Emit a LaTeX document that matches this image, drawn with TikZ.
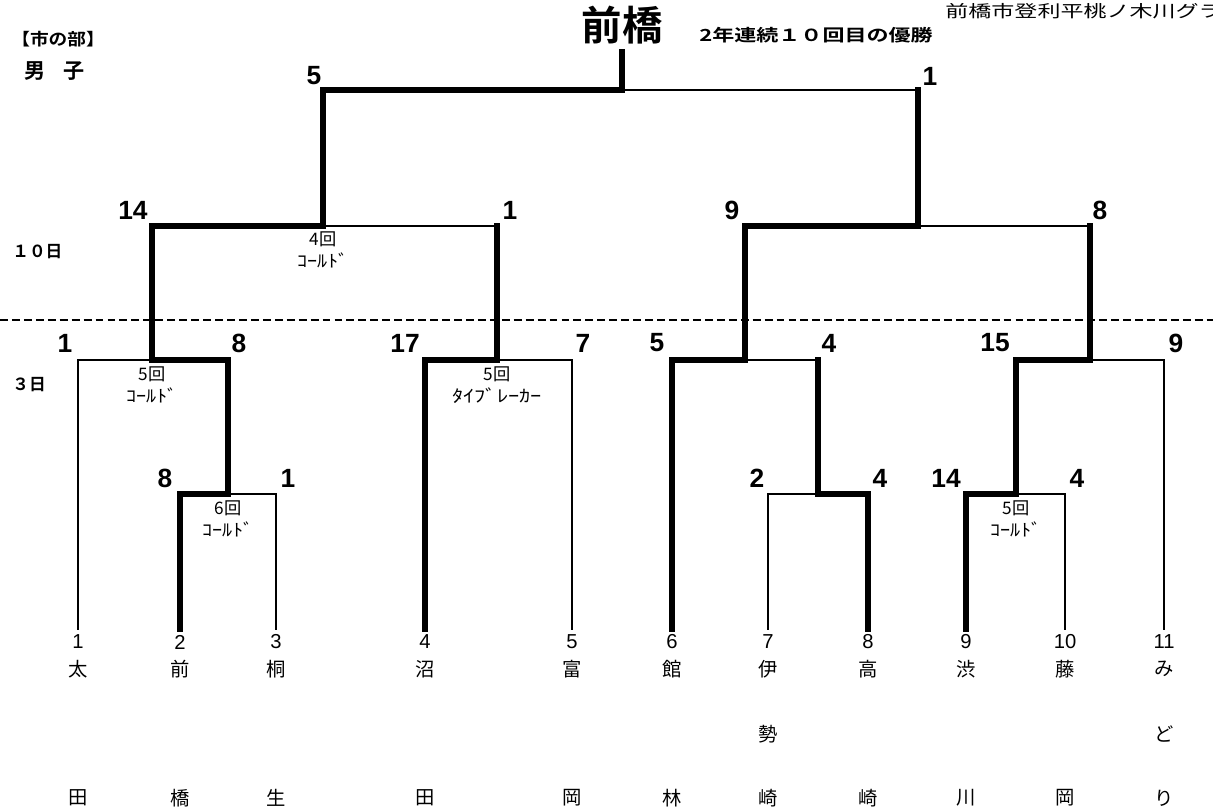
\documentclass[tikz,border=0pt]{standalone}
\usepackage{fontspec}
\setmainfont{Liberation Sans}
\newfontfamily\jp{Noto Sans CJK JP}
\newfontfamily\jpb{Noto Sans CJK JP Bold}
\tikzset{
  thinline/.style={line width=1pt, line cap=rect},
  thickline/.style={line width=3pt, line join=miter, line cap=rect},
  scorenum/.style={font=\fontsize{15}{15}\selectfont\bfseries, inner sep=0pt},
  notetext/.style={font=\jp\fontsize{9.8}{12.5}\selectfont, inner sep=0pt, align=center},
  seednum/.style={font=\fontsize{11.5}{12}\selectfont, inner sep=0pt},
  teamchar/.style={font=\jp\fontsize{11}{12}\selectfont, inner sep=0pt},
  hdrtext/.style={font=\jpb\fontsize{9.5}{11}\selectfont, inner sep=0pt},
}
\begin{document}
\begin{tikzpicture}[x=0.02cm,y=-0.02cm]
\useasboundingbox (0,0) rectangle (1213,808);
\clip (0,0) rectangle (1213,808);
% header
\node[font=\jpb\fontsize{23}{25}\selectfont, inner sep=0pt] (champ) at (622,25) {前橋};
\node[hdrtext, anchor=west] (streak) at (699,35) {\scalebox{1.32}[1]{2年連続１０回目の優勝}};
\node[font=\jp\fontsize{9.5}{11}\selectfont, inner sep=0pt, anchor=west] (venue) at (945,11) {\scalebox{1.38}[1]{前橋市登利平桃ノ木川グランド}};
\node[hdrtext, anchor=west] (div) at (11,39) {\scalebox{1.12}[1]{【市の部】}};
\node[hdrtext, anchor=west, font=\jpb\fontsize{12}{13}\selectfont] (sex) at (24,71) {男\hspace{0.85em}子};
\node[hdrtext, anchor=west] (day10) at (12,252) {１０日};
\node[hdrtext, anchor=west] (day3) at (12,385) {３日};
% dashed separator
\coordinate (dl) at (0,320);
\coordinate (dr) at (1213,320);
\draw[dash pattern=on 4.5pt off 2.3pt, line width=1.3pt] (dl) -- (dr);

% team bottoms
\foreach \i/\x in {1/78,2/180,3/276,4/425,5/572,6/672,7/768,8/868,9/966,10/1065,11/1164}{
  \coordinate (b\i) at (\x,629);
}
% junctions
\coordinate (a2) at (180,494); \coordinate (a3) at (276,494); \coordinate (am) at (228,494);
\coordinate (b7t) at (768,494); \coordinate (b8t) at (868,494); \coordinate (bm) at (818,494);
\coordinate (c9) at (966,494); \coordinate (c10) at (1065,494); \coordinate (cm) at (1016,494);
\coordinate (d1) at (78,360); \coordinate (dA) at (228,360); \coordinate (dm) at (152,360);
\coordinate (e4) at (425,360); \coordinate (e5) at (572,360); \coordinate (em) at (497,360);
\coordinate (f6) at (672,360); \coordinate (fB) at (818,360); \coordinate (fm) at (745,360);
\coordinate (gC) at (1016,360); \coordinate (g11) at (1164,360); \coordinate (gm) at (1090,360);
\coordinate (hD) at (152,226); \coordinate (hE) at (497,226); \coordinate (hm) at (323,226);
\coordinate (iF) at (745,226); \coordinate (iG) at (1090,226); \coordinate (im) at (918,226);
\coordinate (jH) at (323,90); \coordinate (jI) at (918,90); \coordinate (jm) at (622,90);
\coordinate (top) at (622,52);

% thin (losing) lines
\draw[thinline] (b3) -- (a3) -- (am);
\draw[thinline] (b1) -- (d1) -- (dm);
\draw[thinline] (b5) -- (e5) -- (em);
\draw[thinline] (b7) -- (b7t) -- (bm);
\draw[thinline] (fm) -- (fB);
\draw[thinline] (b10) -- (c10) -- (cm);
\draw[thinline] (b11) -- (g11) -- (gm);
\draw[thinline] (hm) -- (hE);
\draw[thinline] (im) -- (iG);
\draw[thinline] (jm) -- (jI);

% thick (winning) lines
\draw[thickline] (b2) -- (a2) -- (am) -- (dA) -- (dm) -- (hD) -- (hm) -- (jH) -- (jm) -- (top);
\draw[thickline] (b4) -- (e4) -- (em) -- (hE);
\draw[thickline] (b6) -- (f6) -- (fm) -- (iF) -- (im) -- (jI);
\draw[thickline] (b8) -- (b8t) -- (bm) -- (fB);
\draw[thickline] (b9) -- (c9) -- (cm) -- (gC) -- (gm) -- (iG);

% scores
\node[scorenum] (s1) at (314,76) {5};
\node[scorenum] (s2) at (930,76) {1};
\node[scorenum] (s3) at (133,210) {14};
\node[scorenum] (s4) at (510,210) {1};
\node[scorenum] (s5) at (732,210) {9};
\node[scorenum] (s6) at (1100,210) {8};
\node[scorenum] (s7) at (65,343) {1};
\node[scorenum] (s8) at (239,343) {8};
\node[scorenum] (s9) at (405,343) {17};
\node[scorenum] (s10) at (583,343) {7};
\node[scorenum] (s11) at (657,343) {5};
\node[scorenum] (s12) at (829,343) {4};
\node[scorenum] (s13) at (995,343) {15};
\node[scorenum] (s14) at (1176,343) {9};
\node[scorenum] (s15) at (165,478) {8};
\node[scorenum] (s16) at (288,478) {1};
\node[scorenum] (s17) at (757,478) {2};
\node[scorenum] (s18) at (880,478) {4};
\node[scorenum] (s19) at (946,478) {14};
\node[scorenum] (s20) at (1077,478) {4};

% notes
\newcommand{\cold}{\scalebox{1.17}[1]{ｺｰﾙﾄﾞ}}
\node[notetext] (n1) at (323,250) {4回\\\cold};
\node[notetext] (n2) at (152,385) {5回\\\cold};
\node[notetext] (n3) at (497,385) {5回\\\scalebox{1.3}[1]{ﾀｲﾌﾞﾚｰｶｰ}};
\node[notetext] (n4) at (228,519) {6回\\\cold};
\node[notetext] (n5) at (1016,519) {5回\\\cold};

% seeds and names
\foreach \i/\x/\a/\b/\c in {1/78/太//田,2/180/前//橋,3/276/桐//生,4/425/沼//田,5/572/富//岡,6/672/館//林,7/768/伊/勢/崎,8/868/高//崎,9/966/渋//川,10/1065/藤//岡,11/1164/み/ど/り}{
  \node[seednum] (num\i) at (\x,642) {\i};
  \node[teamchar] (na\i) at (\x,669) {\a};
  \node[teamchar] (nb\i) at (\x,734) {\b};
  \node[teamchar] (nc\i) at (\x,798) {\c};
}
\end{tikzpicture}
\end{document}
